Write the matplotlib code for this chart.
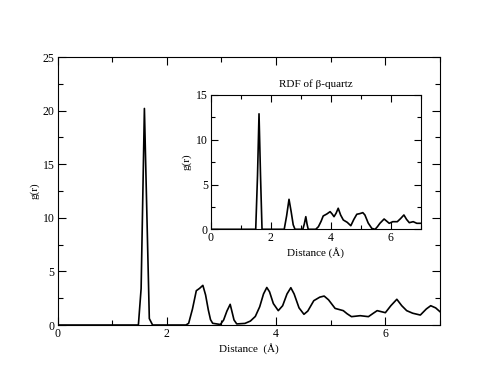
import numpy as np
import matplotlib.pyplot as plt
from matplotlib.ticker import MultipleLocator

# RDF totale (grafico principale)
r_main = [0.0, 1.45, 1.48, 1.53, 1.59, 1.68, 1.74, 2.35, 2.40, 2.47, 2.54, 2.60,
          2.66, 2.71, 2.76, 2.80, 2.84, 2.98, 3.04, 3.10, 3.16, 3.20, 3.23, 3.28,
          3.43, 3.53, 3.62, 3.70, 3.77, 3.83, 3.88, 3.95, 4.04, 4.12, 4.20, 4.27,
          4.33, 4.42, 4.51, 4.58, 4.69, 4.80, 4.88, 4.96, 5.08, 5.23, 5.30, 5.38,
          5.54, 5.69, 5.78, 5.85, 6.00, 6.10, 6.21, 6.30, 6.39, 6.50, 6.64, 6.75,
          6.83, 6.92, 7.0]
g_main = [0.0, 0.0, 0.0, 3.4, 20.2, 0.6, 0.0, 0.0, 0.16, 1.5, 3.2, 3.42,
          3.7, 2.8, 1.4, 0.5, 0.16, 0.05, 0.47, 1.3, 1.93, 1.1, 0.47, 0.1,
          0.15, 0.37, 0.8, 1.7, 2.9, 3.5, 3.1, 2.0, 1.34, 1.8, 2.9, 3.48,
          2.9, 1.6, 1.0, 1.3, 2.27, 2.6, 2.7, 2.35, 1.55, 1.34, 1.05, 0.78,
          0.87, 0.78, 1.1, 1.34, 1.15, 1.8, 2.4, 1.8, 1.34, 1.1, 0.93, 1.5,
          1.8, 1.6, 1.24]

# RDF di beta-quarzo (inset)
r_ins = [0.0, 1.50, 1.56, 1.61, 1.66, 1.71, 2.45, 2.53, 2.61, 2.68, 2.75, 2.81,
         3.07, 3.12, 3.17, 3.21, 3.25, 3.50, 3.59, 3.68, 3.75, 3.87, 3.98, 4.05,
         4.11, 4.18, 4.25, 4.33, 4.42, 4.55, 4.67, 4.77, 4.87, 4.97, 5.07, 5.14,
         5.25, 5.37, 5.48, 5.56, 5.64, 5.78, 5.87, 5.95, 6.07, 6.22, 6.33, 6.44,
         6.53, 6.62, 6.75, 6.87, 7.0]
g_ins = [0.0, 0.0, 6.0, 12.9, 6.0, 0.0, 0.0, 1.5, 3.35, 2.0, 0.5, 0.0,
         0.0, 0.6, 1.41, 0.6, 0.0, 0.0, 0.29, 0.9, 1.49, 1.71, 1.97, 1.7,
         1.41, 1.8, 2.35, 1.6, 1.04, 0.78, 0.4, 1.1, 1.68, 1.75, 1.86, 1.6,
         0.7, 0.1, 0.0, 0.3, 0.67, 1.15, 0.9, 0.67, 0.85, 0.85, 1.2, 1.6,
         1.1, 0.74, 0.85, 0.67, 0.67]

plt.rcParams['font.family'] = ['Liberation Serif', 'DejaVu Serif']
plt.rcParams['axes.linewidth'] = 0.8

fig = plt.figure(figsize=(4.95, 3.83), dpi=100)

# grafico principale
ax = fig.add_axes([0.1162, 0.1514, 0.7727, 0.6997])
ax.plot(r_main, g_main, color='black', lw=1.2)
ax.set_xlim(0, 7)
ax.set_ylim(0, 25)
ax.xaxis.set_major_locator(MultipleLocator(2))
ax.xaxis.set_minor_locator(MultipleLocator(1))
ax.yaxis.set_major_locator(MultipleLocator(5))
ax.yaxis.set_minor_locator(MultipleLocator(2.5))
ax.tick_params(which='both', direction='in', top=True, right=True, labelsize=8.5, width=0.8)
ax.tick_params(which='major', length=6, pad=2)
ax.tick_params(which='minor', length=3.5)
ax.set_xlabel("Distance  (Å)", fontsize=8, labelpad=2)
ax.set_ylabel("g(r)", fontsize=8, labelpad=2.5)

# inset
ax2 = fig.add_axes([0.4257, 0.4013, 0.4242, 0.3507])
ax2.plot(r_ins, g_ins, color='black', lw=1.2)
ax2.set_xlim(0, 7)
ax2.set_ylim(0, 15)
ax2.xaxis.set_major_locator(MultipleLocator(2))
ax2.xaxis.set_minor_locator(MultipleLocator(1))
ax2.yaxis.set_major_locator(MultipleLocator(5))
ax2.yaxis.set_minor_locator(MultipleLocator(2.5))
ax2.tick_params(which='both', direction='in', top=True, right=True, labelsize=8.5, width=0.8)
ax2.tick_params(which='major', length=5, pad=2)
ax2.tick_params(which='minor', length=3)
ax2.set_xlabel("Distance (Å)", fontsize=8, labelpad=2)
ax2.set_ylabel("g(r)", fontsize=8, labelpad=3)
ax2.set_title("RDF of β-quartz", fontsize=8, pad=6)

fig.savefig("out.png", dpi=100)
